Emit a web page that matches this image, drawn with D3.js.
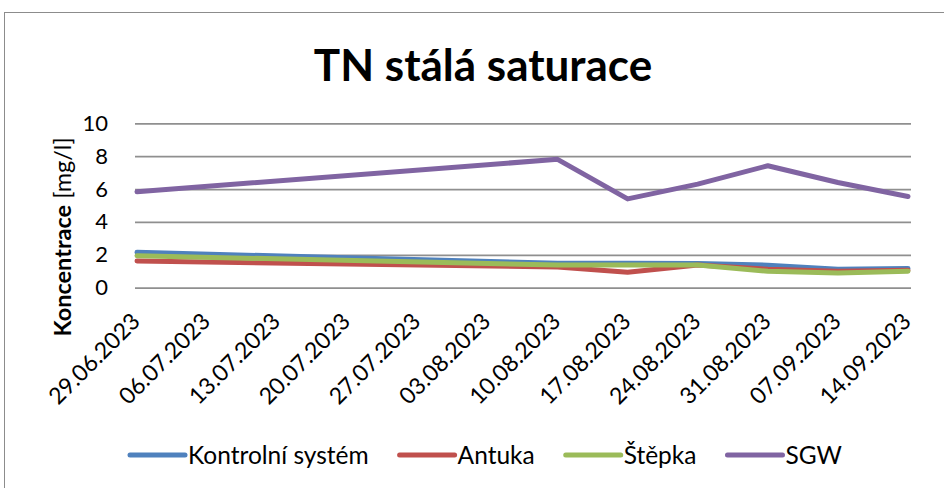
<!DOCTYPE html>
<html><head><meta charset="utf-8">
<script src="https://cdn.jsdelivr.net/npm/d3@7/dist/d3.min.js"></script>
<style>body{margin:0;background:#fff}svg{display:block}</style>
</head><body>
<svg id="c" width="944" height="488"></svg>
<script>
const categories = ["29.06.2023","06.07.2023","13.07.2023","20.07.2023","27.07.2023","03.08.2023","10.08.2023","17.08.2023","24.08.2023","31.08.2023","07.09.2023","14.09.2023"];
const kontrolni = [2.15, null, null, null, null, null, 1.49, 1.49, 1.47, 1.37, 1.12, 1.17];
const antuka    = [1.62, null, null, null, null, null, 1.26, 0.94, 1.38, 1.12, 1.00, 1.06];
const stepka    = [1.94, null, null, null, null, null, 1.38, 1.38, 1.38, 1.00, 0.90, 1.00];
const sgw       = [5.84, null, null, null, null, null, 7.81, 5.40, 6.30, 7.42, 6.40, 5.55];
const yTicks = [0, 2, 4, 6, 8, 10];
const seriesNames = ["Kontrolní systém", "Antuka", "Štěpka", "SGW"];
const seriesValues = [kontrolni, antuka, stepka, sgw];
const seriesColors = ["#4f81bd", "#c0504d", "#9bbb59", "#8064a2"];
const titleText = "TN stálá saturace";
const yLabelBold = "Koncentrace";
const yLabelRest = " [mg/l]";

const FONT = "Lato, 'Open Sans', sans-serif";
const svg = d3.select("#c");

// outer chart border
svg.append("rect").attr("x", 4.5).attr("y", 12.5).attr("width", 1000).attr("height", 1000)
  .attr("fill", "none").attr("stroke", "#8c8c8c").attr("stroke-width", 1);

const x = d3.scalePoint().domain(categories).range([137, 908]);
const y = d3.scaleLinear().domain([0, 10]).range([287.7, 123.3]);
const gridLeft = 135, gridRight = 911;

// y axis with gridlines
const yAxis = svg.append("g").attr("transform", `translate(${gridLeft},0)`)
  .call(d3.axisLeft(y).tickValues(yTicks).tickSize(-(gridRight - gridLeft)).tickPadding(27).tickFormat(d3.format("d")));
yAxis.select(".domain").remove();
yAxis.selectAll(".tick line").attr("stroke", "#8f8f8f").attr("stroke-width", 1.8);
yAxis.selectAll(".tick text").attr("font-family", FONT).attr("font-size", 22).attr("fill", "#000");

// x axis labels
const xAxis = svg.append("g").attr("transform", `translate(0,${y(0)})`)
  .call(d3.axisBottom(x).tickSize(0));
xAxis.select(".domain").remove();
xAxis.selectAll(".tick text")
  .attr("font-family", FONT).attr("font-size", 23).attr("fill", "#000")
  .attr("x", 0).attr("y", 0).attr("dy", 0)
  .attr("text-anchor", "end")
  .attr("transform", "translate(4,35) rotate(-45)");

// lines
const line = d3.line().x(d => x(d.c)).y(d => y(d.v));
seriesValues.forEach((vals, i) => {
  const pts = categories.map((c, j) => ({c, v: vals[j]})).filter(d => d.v !== null);
  svg.append("path").datum(pts).attr("d", line)
    .attr("fill", "none").attr("stroke", seriesColors[i]).attr("stroke-width", 5)
    .attr("stroke-linejoin", "round").attr("stroke-linecap", "round");
});

// title
svg.append("text").attr("x", 483).attr("y", 81).attr("text-anchor", "middle")
  .attr("font-family", FONT).attr("font-weight", "bold").attr("font-size", 44).attr("fill", "#000")
  .text(titleText);

// y label
const yl = svg.append("text").attr("transform", "translate(71,237) rotate(-90)").attr("text-anchor", "middle")
  .attr("font-family", FONT).attr("font-size", 23.5).attr("fill", "#000");
yl.append("tspan").attr("font-weight", "bold").text(yLabelBold);
yl.append("tspan").text(yLabelRest);

// legend
let lx = 130;
const ly = 455;
seriesNames.forEach((name, i) => {
  svg.append("line").attr("x1", lx).attr("x2", lx + 55).attr("y1", ly).attr("y2", ly)
    .attr("stroke", seriesColors[i]).attr("stroke-width", 5).attr("stroke-linecap", "round");
  const t = svg.append("text").attr("x", lx + 58).attr("y", ly).attr("dy", "0.35em")
    .attr("font-family", FONT).attr("font-size", 24.5).attr("fill", "#000").text(name);
  lx += 58 + t.node().getComputedTextLength() + 31;
});
</script>
</body></html>
